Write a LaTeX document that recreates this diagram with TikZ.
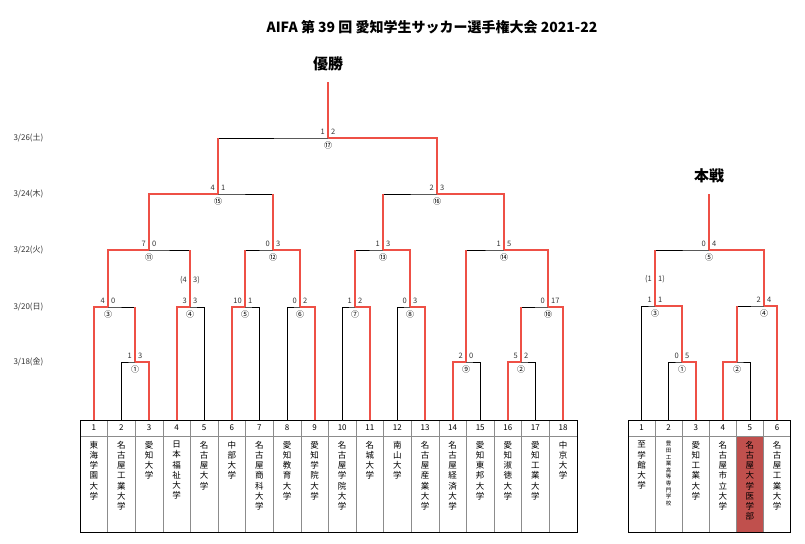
\documentclass[tikz,border=0pt]{standalone}
\usepackage{fontspec}
\setmainfont{Noto Sans CJK JP}
\usepackage{tikz}
\usetikzlibrary{calc,positioning}
\definecolor{winred}{RGB}{238,80,70}
\definecolor{cellred}{RGB}{192,80,77}
\def\vtloop#1{\ifx#1\relax\else#1\\\expandafter\vtloop\fi}
\newcommand\vstack[1]{\expandafter\vtloop#1\relax}
% bracket match: match, left child, right child, winner child
\newcommand\bout[4]{%
  \draw[lose] (#2) |- (#1) -| (#3);
  \draw[win] (#4) |- (#1);}
\newcommand\score[3]{%
  \node[sc,anchor=south east] at ($(#1)+(-2,-2)$) {#2};
  \node[sc,anchor=south west] at ($(#1)+(2,-2)$) {#3};}
\begin{document}
\begin{tikzpicture}[
    x=1pt, y=-1pt,
    win/.style={winred, line width=1.8pt},
    lose/.style={black, line width=0.6pt},
    sc/.style={font=\fontsize{7.5}{8}\selectfont, inner sep=1pt, text=black!80},
    mno/.style={font=\fontsize{8}{9}\selectfont, inner sep=0pt, below=4pt},
    date/.style={font=\fontsize{8}{9}\selectfont, anchor=west, text=black!80},
    vname/.style={font=\fontsize{8.5}{10.2}\selectfont, align=center, anchor=north, inner sep=0pt},
    cell/.style={draw=black!45, line width=0.5pt},
]
\useasboundingbox (0,0) rectangle (805,543);

% titles
\node[font=\bfseries\fontsize{14}{16}\selectfont] (title) at (432,27) {AIFA 第 39 回 愛知学生サッカー選手権大会 2021-22};
\node[font=\bfseries\fontsize{15}{17}\selectfont] (champ) at (328,64) {優勝};
\node[font=\bfseries\fontsize{15}{17}\selectfont] (main) at (709,176) {本戦};

% dates
\node[date] (d26) at (10,138) {3/26(土)};
\node[date] (d24) at (10,194) {3/24(木)};
\node[date] (d22) at (10,250) {3/22(火)};
\node[date] (d20) at (10,307) {3/20(日)};
\node[date] (d18) at (10,362) {3/18(金)};

% left block: cells and team points
\foreach \n/\name [count=\i] in {1/東海学園大学,2/名古屋工業大学,3/愛知大学,4/日本福祉大学,5/名古屋大学,6/中部大学,7/名古屋商科大学,8/愛知教育大学,9/愛知学院大学,10/名古屋学院大学,11/名城大学,12/南山大学,13/名古屋産業大学,14/名古屋経済大学,15/愛知東邦大学,16/愛知淑徳大学,17/愛知工業大学,18/中京大学} {
  \draw[cell] ({80+27.6*(\i-1)},420) rectangle ++(27.6,16);
  \draw[cell] ({80+27.6*(\i-1)},436) rectangle ++(27.6,96);
  \node[font=\fontsize{8}{9}\selectfont] (na\i) at ({80+27.6*(\i-0.5)},428) {\n};
  \node[vname] (va\i) at ({80+27.6*(\i-0.5)},441) {\vstack{\name}};
  \coordinate (ta\i) at ({80+27.6*(\i-0.5)},420);
}
\draw[lose] (80,420) rectangle (576.8,532);

% right block
\fill[cellred] (736.5,436) rectangle ++(27.1,96);
\foreach \n/\name [count=\i] in {1/至学館大学,2/{},3/愛知工業大学,4/名古屋市立大学,5/名古屋大学医学部,6/名古屋工業大学} {
  \draw[cell] ({628+27.1*(\i-1)},420) rectangle ++(27.1,16);
  \draw[cell] ({628+27.1*(\i-1)},436) rectangle ++(27.1,96);
  \node[font=\fontsize{8}{9}\selectfont] (nb\i) at ({628+27.1*(\i-0.5)},428) {\n};
  \coordinate (tb\i) at ({628+27.1*(\i-0.5)},420);
}
\foreach \i/\name in {1/至学館大学,3/愛知工業大学,4/名古屋市立大学,5/名古屋大学医学部,6/名古屋工業大学}
  \node[vname] (vb\i) at ($(tb\i)+(0,21)$) {\vstack{\name}};
\node[vname, font=\fontsize{5.5}{6.6}\selectfont] (vb2) at ($(tb2)+(0,21)$) {\vstack{豊田工業高等専門学校}};
\draw[lose] (628,420) rectangle (790.6,532);

% match points, left block
\coordinate (ma1) at (135,362);  \coordinate (ma9) at (466,362);
\coordinate (ma2) at (521,362);  \coordinate (ma3) at (108,307);
\coordinate (ma4) at (190,307);  \coordinate (ma5) at (245,307);
\coordinate (ma6) at (300,307);  \coordinate (ma7) at (355,307);
\coordinate (ma8) at (410,307);  \coordinate (ma10) at (548,307);
\coordinate (ma11) at (149,250); \coordinate (ma12) at (273,250);
\coordinate (ma13) at (383,250); \coordinate (ma14) at (504,250);
\coordinate (ma15) at (218,194); \coordinate (ma16) at (437,194);
\coordinate (ma17) at (328,138); \coordinate (topa) at (328,82);

\bout{ma1}{ta2}{ta3}{ta3}
\bout{ma9}{ta14}{ta15}{ta14}
\bout{ma2}{ta16}{ta17}{ta16}
\bout{ma3}{ta1}{ma1}{ta1}
\bout{ma4}{ta4}{ta5}{ta4}
\bout{ma5}{ta6}{ta7}{ta6}
\bout{ma6}{ta8}{ta9}{ta9}
\bout{ma7}{ta10}{ta11}{ta11}
\bout{ma8}{ta12}{ta13}{ta13}
\bout{ma10}{ma2}{ta18}{ta18}
\bout{ma11}{ma3}{ma4}{ma3}
\bout{ma12}{ma5}{ma6}{ma6}
\bout{ma13}{ma7}{ma8}{ma8}
\bout{ma14}{ma9}{ma10}{ma10}
\bout{ma15}{ma11}{ma12}{ma11}
\bout{ma16}{ma13}{ma14}{ma14}
\bout{ma17}{ma15}{ma16}{ma16}
\draw[win] (ma17) -- (topa);
% losers that won before
\foreach \a/\b in {ma1/ma3,ma2/ma10,ma4/ma11,ma5/ma12,ma7/ma13,ma9/ma14,ma12/ma15,ma13/ma16,ma15/ma17}
  \draw[win] (\a) -- (\a |- \b);

% match points, right block
\coordinate (mb1) at (682,362); \coordinate (mb2) at (737,362);
\coordinate (mb3) at (655,306); \coordinate (mb4) at (764,306);
\coordinate (mb5) at (709,250); \coordinate (topb) at (709,194);
\bout{mb1}{tb2}{tb3}{tb3}
\bout{mb2}{tb4}{tb5}{tb4}
\bout{mb3}{tb1}{mb1}{mb1}
\bout{mb4}{mb2}{tb6}{tb6}
\bout{mb5}{mb3}{mb4}{mb4}
\draw[win] (mb5) -- (topb);
\foreach \a/\b in {mb2/mb4,mb3/mb5}
  \draw[win] (\a) -- (\a |- \b);

% match numbers
\foreach \m/\t in {ma1/①,ma2/②,ma3/③,ma4/④,ma5/⑤,ma6/⑥,ma7/⑦,ma8/⑧,ma9/⑨,ma10/⑩,ma11/⑪,ma12/⑫,ma13/⑬,ma14/⑭,ma15/⑮,ma16/⑯,ma17/⑰,mb1/①,mb2/②,mb3/③,mb4/④,mb5/⑤}
  \node[mno] at (\m) {\t};

% scores
\score{ma17}{1}{2} \score{ma15}{4}{1} \score{ma16}{2}{3}
\score{ma11}{7}{0} \score{ma12}{0}{3} \score{ma13}{1}{3} \score{ma14}{1}{5}
\score{ma3}{4}{0} \score{ma4}{3}{3} \score{ma5}{10}{1} \score{ma6}{0}{2}
\score{ma7}{1}{2} \score{ma8}{0}{3} \score{ma10}{0}{17}
\score{ma1}{1}{3} \score{ma9}{2}{0} \score{ma2}{5}{2}
\coordinate (pka) at ($(ma4)+(0,-20)$);
\score{pka}{(4}{3)}
\score{mb5}{0}{4} \score{mb3}{1}{1} \score{mb4}{2}{4} \score{mb1}{0}{5}
\coordinate (pkb) at ($(mb3)+(0,-20)$);
\score{pkb}{(1}{1)}
\end{tikzpicture}
\end{document}
